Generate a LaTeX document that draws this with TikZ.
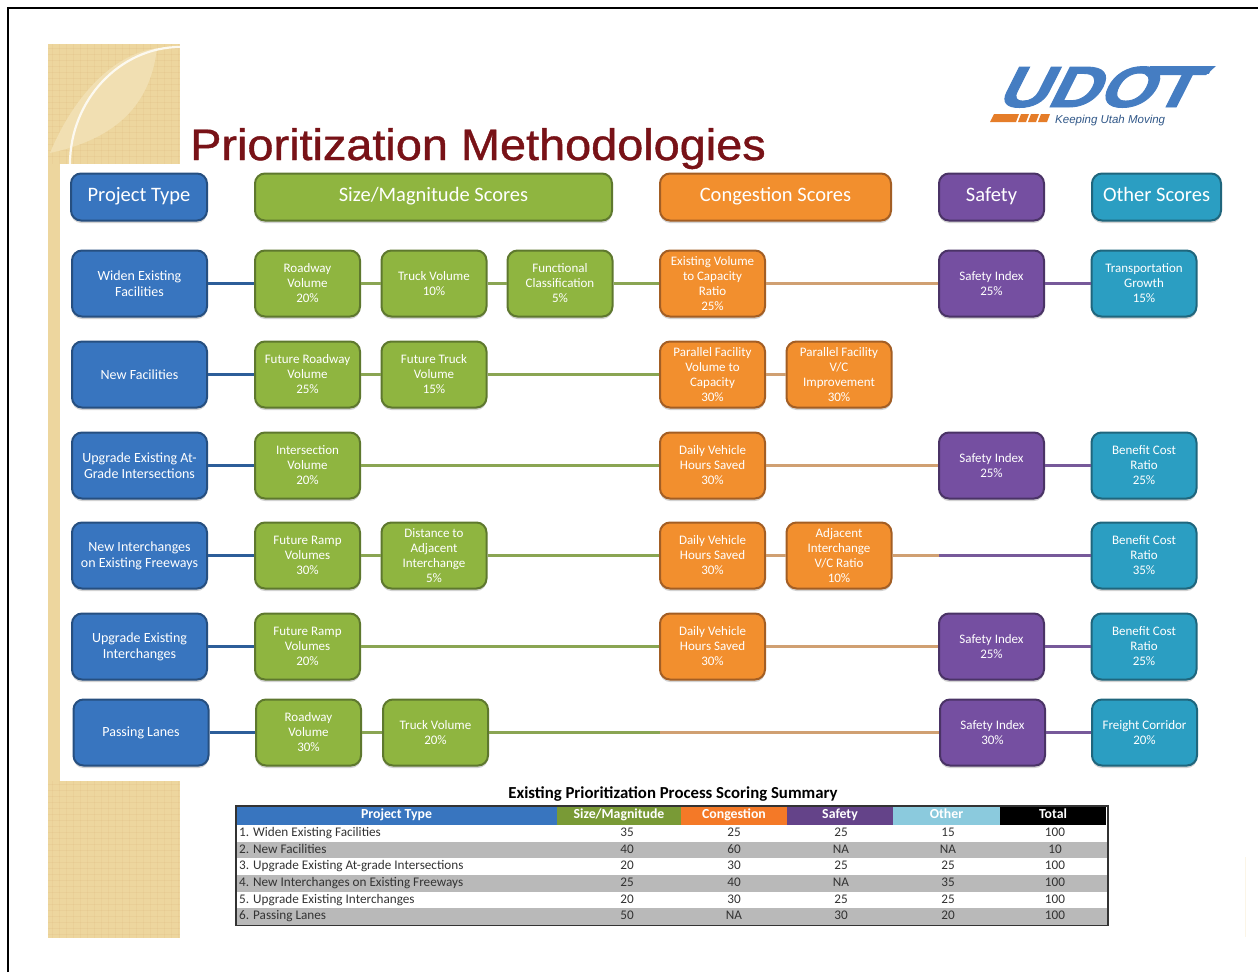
\documentclass[tikz,border=0pt]{standalone}
\usepackage{fontspec}
\setmainfont{Carlito}
\newfontfamily\arialfont{Liberation Sans}
\newfontfamily\titlefont[FakeBold=0.9]{Liberation Sans}
\newfontfamily\logofont[UprightFont={* Bold},FakeSlant=.42,FakeBold=1.5]{Liberation Sans}
\usetikzlibrary{shadows}
\definecolor{tan}{rgb}{0.93,0.84,0.62}
\definecolor{palet}{rgb}{0.945,0.875,0.70}
\definecolor{titlered}{rgb}{0.47,0.07,0.09}
\definecolor{blu}{rgb}{0.22,0.46,0.75}
\definecolor{blud}{rgb}{0.15,0.31,0.50}
\definecolor{grn}{rgb}{0.56,0.71,0.25}
\definecolor{grnd}{rgb}{0.37,0.47,0.18}
\definecolor{org}{rgb}{0.95,0.56,0.18}
\definecolor{orgd}{rgb}{0.64,0.37,0.14}
\definecolor{pur}{rgb}{0.46,0.31,0.63}
\definecolor{purd}{rgb}{0.29,0.20,0.40}
\definecolor{tea}{rgb}{0.17,0.62,0.76}
\definecolor{tead}{rgb}{0.12,0.40,0.49}
\definecolor{logob}{rgb}{0.27,0.49,0.76}
\definecolor{logoo}{rgb}{0.90,0.49,0.16}
\tikzset{box/.style={rounded corners=10pt,line width=2pt,text=white,align=center,inner sep=0pt,
  minimum height=66pt,minimum width=105pt,font=\fontsize{13}{15}\selectfont,
  drop shadow={shadow xshift=0pt,shadow yshift=-2.5pt,opacity=.35}}}
\tikzset{hd/.style={box,minimum height=47pt,text height=13pt,text depth=4pt,font=\fontsize{20.5}{22}\selectfont}}
\tikzset{b/.style={fill=blu,draw=blud}}
\tikzset{bb/.style={b,minimum width=135pt,font=\fontsize{14}{16}\selectfont}}
\tikzset{g/.style={fill=grn,draw=grnd}}
\tikzset{o/.style={fill=org,draw=orgd}}
\tikzset{p/.style={fill=pur,draw=purd}}
\tikzset{t/.style={fill=tea,draw=tead}}
\tikzset{bl/.style={draw=blu!80!black,line width=3pt}}
\tikzset{gl/.style={draw=grn!70!gray,line width=3pt}}
\tikzset{ol/.style={draw=org!60!gray!80,line width=3pt}}
\tikzset{pl/.style={draw=pur!80!gray,line width=3pt}}
\tikzset{th/.style={inner sep=0pt,minimum height=18pt,text height=9pt,text depth=3pt,text=white,font=\fontsize{13.8}{14}\selectfont\bfseries}}
\tikzset{td/.style={inner sep=0pt,text height=9pt,text depth=3pt,text=black!80,font=\fontsize{13.2}{14}\selectfont}}
\begin{document}
\begin{tikzpicture}[x=1pt,y=-1pt]
  \useasboundingbox (0,0) rectangle (1258,972);
  % frame and paper strip
  \draw[black,line width=2.6pt] (8,972)--(8,8)--(1258,8);
  \fill[tan] (48,44) rectangle (180,164);
  \fill[tan] (48,164) rectangle (60,781);
  \fill[tan] (48,781) rectangle (180,938);
  \foreach \yy in {48,54,...,160,784,790,...,936}
    \draw[brown!60!tan,opacity=.12,line width=.8pt] (48,\yy)--(180,\yy);
  \foreach \xx in {52,59,...,178}{
    \draw[brown!60!tan,opacity=.10,line width=.8pt] (\xx,44)--(\xx,164);
    \draw[brown!60!tan,opacity=.10,line width=.8pt] (\xx,781)--(\xx,938);
  }
  \fill[palet] (157,48) .. controls (150,110) and (110,140) .. (50,153) .. controls (72,100) and (110,55) .. (157,48);
  \draw[white!85!tan,line width=2.2pt] (180,47) .. controls (120,47) and (70,100) .. (70,164);
  \fill[white] (60,164) rectangle (1258,781);
  \fill[white] (180,40) rectangle (1258,164);
  \draw[tan!25,line width=1pt] (1245,857)--(1245,937);
  \node[anchor=base west,inner sep=0pt,text=titlered] (title) at (190,160)
    {\scalebox{1.065}[1]{\titlefont\fontsize{44}{44}\selectfont Prioritization Methodologies}};
  % logo
  \node[anchor=base west,inner sep=0pt,text=logob] (logo) at (995,107)
    {\scalebox{1.2}[1]{\logofont\fontsize{58}{58}\selectfont UDOT}};
  \fill[logob] (1150,66)--(1216,66)--(1206,75)--(1148,75)--cycle;
  \fill[logoo] (994,114)--(1019,114)--(1016,122)--(990,122)--cycle;
  \fill[logoo] (1021,114)--(1029,114)--(1026,122)--(1018,122)--cycle;
  \fill[logoo] (1031,114)--(1039,114)--(1036,122)--(1028,122)--cycle;
  \fill[logoo] (1041,114)--(1050,114)--(1047,122)--(1038,122)--cycle;
  \node[anchor=base west,inner sep=0pt,text=logob!70!black] (tag) at (1055,123)
    {\arialfont\itshape\fontsize{11.5}{11.5}\selectfont Keeping Utah Moving};
  % headers
  \node[hd,b,minimum width=136pt] (Hb) at (139,197) {Project Type};
  \node[hd,g,minimum width=357pt] (Hg) at (433.5,197) {Size/Magnitude Scores};
  \node[hd,o,minimum width=231pt] (Ho) at (775.5,197) {Congestion Scores};
  \node[hd,p] (Hp) at (991.5,197) {Safety};
  \node[hd,t,minimum width=129pt] (Ht) at (1156.5,197) {Other Scores};
  % widen
  \node[box,bb] (B1) at (139.5,283.5) {Widen Existing\\Facilities};
  \node[box,g] (G11) at (307.5,283.5) {Roadway\\Volume\\20\%};
  \node[box,g] (G12) at (434,283.5) {Truck Volume\\10\%};
  \node[box,g] (G13) at (560,283.5) {Functional\\Classification\\5\%};
  \node[box,o] (O11) at (712.5,283.5) {Existing Volume\\to Capacity\\Ratio\\25\%};
  \node[box,p] (P1) at (991.5,283.5) {Safety Index\\25\%};
  \node[box,t] (T1) at (1144,283.5) {Transportation\\Growth\\15\%};
  % new
  \node[box,bb] (B2) at (139.5,374.5) {New Facilities};
  \node[box,g] (G21) at (307.5,374.5) {Future Roadway\\Volume\\25\%};
  \node[box,g] (G22) at (434,374.5) {Future Truck\\Volume\\15\%};
  \node[box,o] (O21) at (712.5,374.5) {Parallel Facility\\Volume to\\Capacity\\30\%};
  \node[box,o] (O22) at (839,374.5) {Parallel Facility\\V/C\\Improvement\\30\%};
  % at-grade
  \node[box,bb] (B3) at (139.5,465.5) {Upgrade Existing At-\\Grade Intersections};
  \node[box,g] (G31) at (307.5,465.5) {Intersection\\Volume\\20\%};
  \node[box,o] (O31) at (712.5,465.5) {Daily Vehicle\\Hours Saved\\30\%};
  \node[box,p] (P3) at (991.5,465.5) {Safety Index\\25\%};
  \node[box,t] (T3) at (1144,465.5) {Benefit Cost\\Ratio\\25\%};
  % interchanges
  \node[box,bb] (B4) at (139.5,555.5) {New Interchanges\\on Existing Freeways};
  \node[box,g] (G41) at (307.5,555.5) {Future Ramp\\Volumes\\30\%};
  \node[box,g] (G42) at (434,555.5) {Distance to\\Adjacent\\Interchange\\5\%};
  \node[box,o] (O41) at (712.5,555.5) {Daily Vehicle\\Hours Saved\\30\%};
  \node[box,o] (O42) at (839,555.5) {Adjacent\\Interchange\\V/C Ratio\\10\%};
  \node[box,t] (T4) at (1144,555.5) {Benefit Cost\\Ratio\\35\%};
  \coordinate (K4) at (939,555.5);
  % upgrade
  \node[box,bb] (B5) at (139.5,646.5) {Upgrade Existing\\Interchanges};
  \node[box,g] (G51) at (307.5,646.5) {Future Ramp\\Volumes\\20\%};
  \node[box,o] (O51) at (712.5,646.5) {Daily Vehicle\\Hours Saved\\30\%};
  \node[box,p] (P5) at (991.5,646.5) {Safety Index\\25\%};
  \node[box,t] (T5) at (1144,646.5) {Benefit Cost\\Ratio\\25\%};
  % passing
  \node[box,bb] (B6) at (141,732.5) {Passing Lanes};
  \node[box,g] (G61) at (308.5,732.5) {Roadway\\Volume\\30\%};
  \node[box,g] (G62) at (435.5,732.5) {Truck Volume\\20\%};
  \node[box,p] (P6) at (992.5,732.5) {Safety Index\\30\%};
  \node[box,t] (T6) at (1144.5,732.5) {Freight Corridor\\20\%};
  \coordinate (K6) at (660,732.5);
  % connectors
  \draw[bl] (B1)--(G11);
  \draw[gl] (G11)--(G12);
  \draw[gl] (G12)--(G13);
  \draw[gl] (G13)--(O11);
  \draw[ol] (O11)--(P1);
  \draw[pl] (P1)--(T1);
  \draw[bl] (B2)--(G21);
  \draw[gl] (G21)--(G22);
  \draw[gl] (G22)--(O21);
  \draw[ol] (O21)--(O22);
  \draw[bl] (B3)--(G31);
  \draw[gl] (G31)--(O31);
  \draw[ol] (O31)--(P3);
  \draw[pl] (P3)--(T3);
  \draw[bl] (B4)--(G41);
  \draw[gl] (G41)--(G42);
  \draw[gl] (G42)--(O41);
  \draw[ol] (O41)--(O42);
  \draw[ol] (O42)--(K4);
  \draw[pl] (K4)--(T4);
  \draw[bl] (B5)--(G51);
  \draw[gl] (G51)--(O51);
  \draw[ol] (O51)--(P5);
  \draw[pl] (P5)--(T5);
  \draw[bl] (B6)--(G61);
  \draw[gl] (G61)--(G62);
  \draw[gl] (G62)--(K6);
  \draw[ol] (K6)--(P6);
  \draw[pl] (P6)--(T6);
  % table
  \node[inner sep=0pt,text=black,font=\fontsize{16.8}{17}\selectfont\bfseries] (cap) at (673,794)
    {Existing Prioritization Process Scoring Summary};
  \fill[gray!55] (237,842) rectangle (1107,858);
  \fill[gray!55] (237,875) rectangle (1107,892);
  \fill[gray!55] (237,908) rectangle (1107,925);
  \node[th,fill=blu,minimum width=321pt] (tb) at (396.5,815.5) {Project Type};
  \node[th,fill=grn!85!black,minimum width=124pt] (tg) at (619,815.5) {Size/Magnitude};
  \node[th,fill=org!85!red,minimum width=106pt] (to) at (734,815.5) {Congestion};
  \node[th,fill=pur!85!black,minimum width=106pt] (tp) at (840,815.5) {Safety};
  \node[th,fill=tea!55!white,minimum width=107pt] (tt) at (946.5,815.5) {Other};
  \node[th,fill=black,minimum width=106pt] (tk) at (1053,815.5) {Total};
  \foreach \n/\yy/\nm/\a/\c/\s/\e/\k in {
    1/833/{1. Widen Existing Facilities}/35/25/25/15/100,
    2/850/{2. New Facilities}/40/60/NA/NA/10,
    3/866/{3. Upgrade Existing At-grade Intersections}/20/30/25/25/100,
    4/883/{4. New Interchanges on Existing Freeways}/25/40/NA/35/100,
    5/900/{5. Upgrade Existing Interchanges}/20/30/25/25/100,
    6/916/{6. Passing Lanes}/50/NA/30/20/100}{
    \node[td,anchor=west] (r\n) at (239,\yy) {\nm};
    \node[td] (a\n) at (627,\yy) {\a};
    \node[td] (c\n) at (734,\yy) {\c};
    \node[td] (s\n) at (841,\yy) {\s};
    \node[td] (e\n) at (948,\yy) {\e};
    \node[td] (k\n) at (1055,\yy) {\k};
  }
  \draw[black!80,line width=1.6pt] (236,806) rectangle (1108,925.5);
\end{tikzpicture}
\end{document}
